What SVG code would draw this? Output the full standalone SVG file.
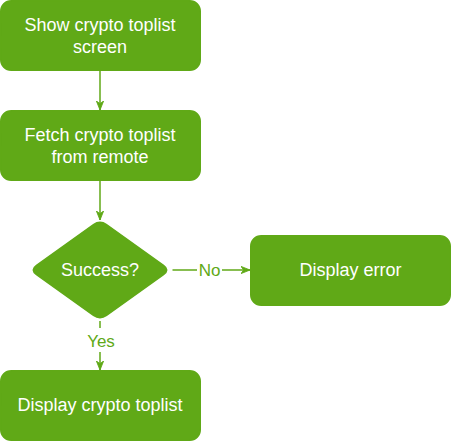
<svg xmlns="http://www.w3.org/2000/svg" width="451" height="441" viewBox="0 0 451 441">
  <style>
    .box { fill: #60a917; stroke: #60a917; stroke-width: 1.5; }
    .txt { fill: #ffffff; font-family: "Liberation Sans", Arial, Helvetica, sans-serif; font-size: 18px; text-anchor: middle; }
    .edge { fill: none; stroke: #60a917; stroke-width: 1.5; }
    .lbl { fill: #60a917; font-family: "Liberation Sans", Arial, Helvetica, sans-serif; font-size: 17px; text-anchor: middle; }
    .lblbg { fill: #ffffff; }
  </style>
  <defs>
    <marker id="arrow" viewBox="0 0 10 10" refX="10" refY="5" markerWidth="9" markerHeight="9" markerUnits="userSpaceOnUse" orient="auto">
      <path d="M0,1 L10,5 L0,9 L3,5 Z" fill="#60a917" stroke="#60a917" stroke-width="1"/>
    </marker>
  </defs>
  <rect width="451" height="441" fill="#ffffff"/>

  <g id="connectors">
    <path class="edge" d="M100,70.5 L100,110" marker-end="url(#arrow)"/>
    <path class="edge" d="M100,180.5 L100,220" marker-end="url(#arrow)"/>
    <g id="edge-no">
      <path class="edge" d="M172.5,270 L250,270" marker-end="url(#arrow)"/>
      <rect class="lblbg" x="197" y="260" width="25" height="20"/>
      <text class="lbl" x="209.5" y="275.8">No</text>
    </g>
    <g id="edge-yes">
      <path class="edge" d="M100,321 L100,370" marker-end="url(#arrow)"/>
      <rect class="lblbg" x="85" y="328" width="31" height="24"/>
      <text class="lbl" x="101" y="346.8">Yes</text>
    </g>
  </g>

  <g id="show-screen">
    <rect class="box" x="0.75" y="0.75" width="199.5" height="69.5" rx="10.5" ry="10.5"/>
    <text class="txt" x="100" y="31"><tspan x="100">Show crypto toplist</tspan><tspan x="100" y="52.6">screen</tspan></text>
  </g>

  <g id="fetch-remote">
    <rect class="box" x="0.75" y="110.75" width="199.5" height="69.5" rx="10.5" ry="10.5"/>
    <text class="txt" x="100" y="141"><tspan x="100">Fetch crypto toplist</tspan><tspan x="100" y="162.6">from remote</tspan></text>
  </g>

  <g id="success-decision">
    <path class="box" d="M93.5,224.6 Q100,220 106.5,224.6 L163.5,265.4 Q170,270 163.5,274.6 L106.5,315.4 Q100,320 93.5,315.4 L36.5,274.6 Q30,270 36.5,265.4 Z"/>
    <text class="txt" x="100" y="276.3">Success?</text>
  </g>

  <g id="display-error">
    <rect class="box" x="250.75" y="235.75" width="199.5" height="69.5" rx="10.5" ry="10.5"/>
    <text class="txt" x="350.5" y="276.3">Display error</text>
  </g>

  <g id="display-toplist">
    <rect class="box" x="0.75" y="370.75" width="199.5" height="69.5" rx="10.5" ry="10.5"/>
    <text class="txt" x="100" y="411.3">Display crypto toplist</text>
  </g>
</svg>
